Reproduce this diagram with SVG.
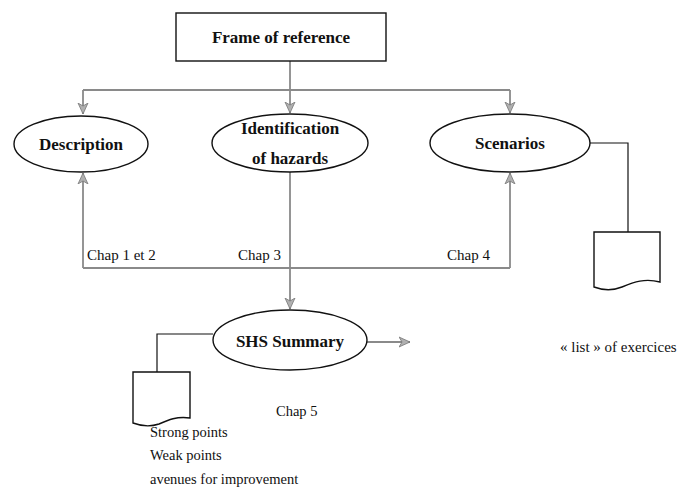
<svg xmlns="http://www.w3.org/2000/svg" width="683" height="495" viewBox="0 0 683 495">
<defs>
<style>
.node{fill:#fff;stroke:#111;stroke-width:1.4}
.t{font-family:"Liberation Serif","Times New Roman",serif;fill:#111}
.b{font-weight:bold;font-size:17px}
.r{font-size:15px}
.s{font-size:14.5px}
.gl{fill:none;stroke:#8a8a8a;stroke-width:1.8}
.bl{fill:none;stroke:#111;stroke-width:1.2}
</style>
<marker id="ah" markerUnits="userSpaceOnUse" markerWidth="12" markerHeight="12" viewBox="0 0 12 12" refX="11" refY="6" orient="auto">
<path d="M0,1 L11,6 L0,11 L3,6 Z" fill="#b0b0b0" stroke="#777" stroke-width="0.8"/>
</marker>
</defs>
<rect width="683" height="495" fill="#fff"/>
<g id="connectors">
<path class="gl" d="M290,61 V90"/>
<path class="gl" d="M83,90 H510"/>
<path class="gl" d="M83,90 V114" marker-end="url(#ah)"/>
<path class="gl" d="M290,90 V113" marker-end="url(#ah)"/>
<path class="gl" d="M510,90 V113" marker-end="url(#ah)"/>
<path class="gl" d="M83,268 H510"/>
<path class="gl" d="M83,268 V173" marker-end="url(#ah)"/>
<path class="gl" d="M510,268 V173" marker-end="url(#ah)"/>
<path class="gl" d="M290,172 V309" marker-end="url(#ah)"/>
<path class="gl" d="M367,342 H410" marker-end="url(#ah)"/>
<path class="bl" d="M590,143 H628 V232"/>
<path class="bl" d="M213,334 H157 V372"/>
</g>
<g id="frame">
<rect class="node" x="176" y="13" width="210" height="48"/>
<text class="t b" x="281" y="43" text-anchor="middle">Frame of reference</text>
</g>
<g id="description">
<ellipse class="node" cx="81" cy="144" rx="67" ry="28"/>
<text class="t b" x="81" y="150" text-anchor="middle">Description</text>
</g>
<g id="identification">
<ellipse class="node" cx="290" cy="143" rx="78" ry="29"/>
<text class="t b" x="290" y="134" text-anchor="middle">Identification</text>
<text class="t b" x="290" y="164" text-anchor="middle">of hazards</text>
</g>
<g id="scenarios">
<ellipse class="node" cx="510" cy="143" rx="80" ry="29"/>
<text class="t b" x="510" y="149" text-anchor="middle">Scenarios</text>
</g>
<g id="shs">
<ellipse class="node" cx="290" cy="340" rx="77" ry="30"/>
<text class="t b" x="290" y="347" text-anchor="middle">SHS Summary</text>
</g>
<g id="doc-scenarios">
<path class="node" d="M594,232 H660 V282 C645,278 634,282 622,287 C612,291 602,290 594,287 Z"/>
</g>
<g id="doc-shs">
<path class="node" d="M133,372 H190 V418 C177,416 168,420 159,424 C150,427 141,426 133,423 Z"/>
</g>
<g id="labels">
<text class="t r" x="87" y="260">Chap 1 et 2</text>
<text class="t r" x="238" y="260">Chap 3</text>
<text class="t r" x="447" y="260">Chap 4</text>
<text class="t s" x="276" y="416">Chap 5</text>
<text class="t r" x="560" y="352">« list » of exercices</text>
<text class="t s" x="150" y="437">Strong points</text>
<text class="t s" x="150" y="460">Weak points</text>
<text class="t s" x="150" y="484">avenues for improvement</text>
</g>
</svg>
